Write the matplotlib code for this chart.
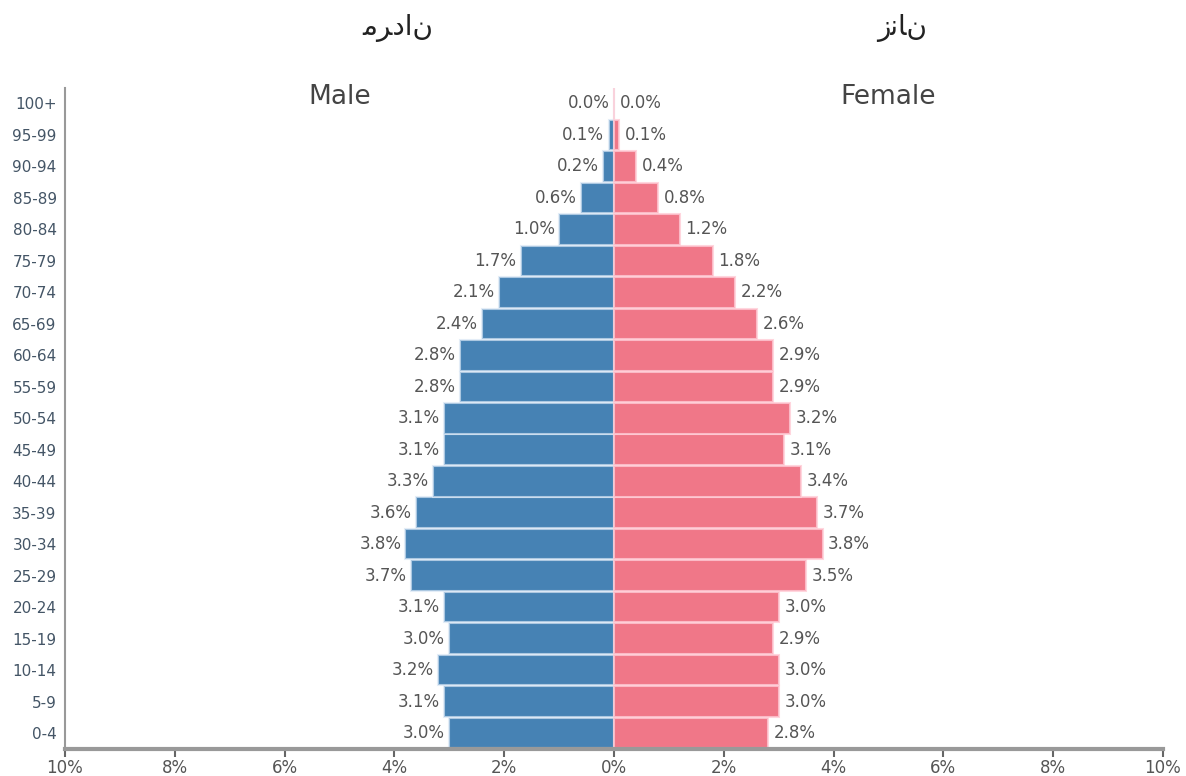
import matplotlib.pyplot as plt
import numpy as np

# گروه‌های سنی و درصد جمعیت
gruppi = ["0-4", "5-9", "10-14", "15-19", "20-24", "25-29", "30-34", "35-39",
          "40-44", "45-49", "50-54", "55-59", "60-64", "65-69", "70-74",
          "75-79", "80-84", "85-89", "90-94", "95-99", "100+"]
maschi = [3.0, 3.1, 3.2, 3.0, 3.1, 3.7, 3.8, 3.6, 3.3, 3.1, 3.1, 2.8, 2.8,
          2.4, 2.1, 1.7, 1.0, 0.6, 0.2, 0.1, 0.0]
femmine = [2.8, 3.0, 3.0, 2.9, 3.0, 3.5, 3.8, 3.7, 3.4, 3.1, 3.2, 2.9, 2.9,
           2.6, 2.2, 1.8, 1.2, 0.8, 0.4, 0.1, 0.0]
xticks = [-10, -8, -6, -4, -2, 0, 2, 4, 6, 8, 10]

# presentation forms
titolo_m = "\uFEE3\uFEAE\uFEA9\uFE8D\uFEE5"   # مردان
titolo_f = "\uFEAF\uFEE7\uFE8E\uFEE5"         # زنان

fig = plt.figure(figsize=(11.86, 7.76), dpi=100)
ax = fig.add_axes([0.0548, 0.035, 0.9258, 0.852])

y = np.arange(len(gruppi))
ax.barh(y, [-v for v in maschi], height=0.97, color="#4682b4",
        edgecolor=(0.85, 0.9, 0.96, 0.7), linewidth=1.5)
ax.barh(y, femmine, height=0.97, color="#f07788",
        edgecolor=(1, 0.8, 0.84, 0.8), linewidth=1.5)

for i in range(len(gruppi)):
    ax.annotate(f"{maschi[i]:.1f}%", (-maschi[i], y[i]), xytext=(-3, 0),
                textcoords="offset points", ha="right", va="center",
                fontsize=12, color="#555555")
    ax.annotate(f"{femmine[i]:.1f}%", (femmine[i], y[i]), xytext=(4, 0),
                textcoords="offset points", ha="left", va="center",
                fontsize=12, color="#555555")

ax.set_xlim(-10, 10)
ax.set_ylim(-0.5, len(gruppi) - 0.5)
ax.set_yticks(y)
ax.set_yticklabels(gruppi, fontsize=11, color="#445566")
ax.set_xticks(xticks)
ax.set_xticklabels([f"{abs(t)}%" for t in xticks], fontsize=12, color="#555555")
ax.tick_params(axis="y", length=0, pad=6)
ax.tick_params(axis="x", length=6, width=1.5, color="#666666", pad=1)

for s in ["top", "right"]:
    ax.spines[s].set_visible(False)
ax.spines["left"].set_color("#999999")
ax.spines["left"].set_linewidth(1.5)
ax.spines["bottom"].set_color("#999999")
ax.spines["bottom"].set_linewidth(3)

fig.text(340 / 1186, 1 - 97 / 776, "Male", fontsize=19, color="#444444",
         ha="center", va="center")
fig.text(888 / 1186, 1 - 97 / 776, "Female", fontsize=19, color="#444444",
         ha="center", va="center")
fig.text(398 / 1186, 1 - 28 / 776, titolo_m, fontsize=20, color="#222222",
         ha="center", va="center", family=["DejaVu Sans"])
fig.text(902 / 1186, 1 - 28 / 776, titolo_f, fontsize=20, color="#222222",
         ha="center", va="center", family=["DejaVu Sans"])

fig.savefig("out.png", dpi=100)
